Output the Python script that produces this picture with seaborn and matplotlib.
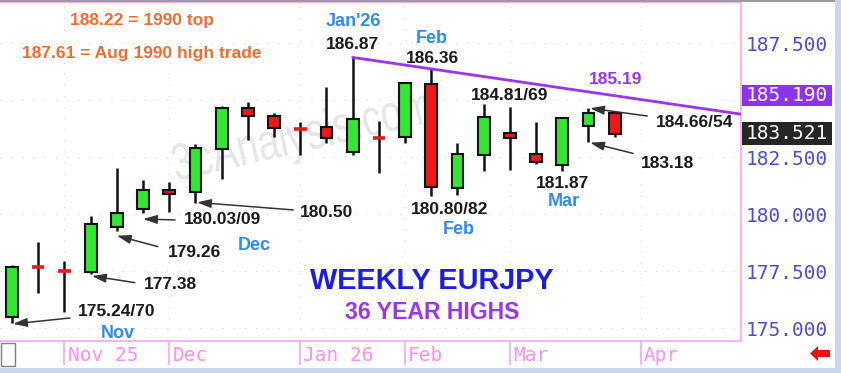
import numpy as np
import pandas as pd
import matplotlib
matplotlib.use('Agg')
import matplotlib.pyplot as plt
import matplotlib.transforms as mtransforms
from matplotlib.patches import Rectangle, Polygon, PathPatch
from matplotlib.textpath import TextPath
from matplotlib.font_manager import FontProperties
import seaborn as sns

# ---------------- data ----------------
weeks = list(range(24))
opens  = [175.50, 177.70, 177.53, 177.45, 179.45, 180.20, 181.05, 180.95, 182.85, 184.65,
          184.30, 183.79, 183.83, 182.70, 183.38, 183.40, 185.70, 181.15, 182.60, 183.55,
          182.63, 182.15, 183.88, 184.45]
highs  = [177.76, 178.79, 177.95, 179.91, 182.00, 181.50, 181.42, 183.07, 184.72, 184.90,
          184.42, 184.05, 185.56, 186.87, 184.09, 185.80, 186.36, 183.10, 184.81, 184.69,
          184.02, 184.25, 184.66, 184.54]
lows   = [175.24, 176.55, 175.70, 177.38, 179.26, 180.03, 180.09, 180.50, 181.55, 183.25,
          183.36, 182.60, 183.13, 182.60, 181.79, 183.13, 180.80, 180.82, 181.90, 181.95,
          182.20, 181.87, 183.18, 183.40]
closes = [177.68, 177.66, 177.49, 179.56, 180.05, 181.05, 180.88, 182.88, 184.65, 184.30,
          183.78, 183.75, 183.35, 184.17, 183.35, 185.73, 181.17, 182.63, 184.27, 183.35,
          182.30, 184.20, 184.42, 183.521]

month_starts = [2, 6, 11, 15, 19, 24]
month_labels = ['Nov 25', 'Dec', 'Jan 26', 'Feb', 'Mar', 'Apr']
ytick_values = [175.0, 177.5, 180.0, 182.5, 187.5]
grid_levels = [175.0, 177.5, 180.0, 182.5, 185.0, 187.5]

trend_x = [13, 23]
trend_y = [186.87, 185.19]
last_price = 183.521
trend_price = 185.19

df = pd.DataFrame({'week': weeks, 'open': opens, 'high': highs, 'low': lows, 'close': closes})

# ---------------- style ----------------
sns.set_theme(style='white')
plt.rcParams['font.family'] = ['Liberation Sans', 'DejaVu Sans']

W, H = 841, 373
fig = plt.figure(figsize=(W / 100, H / 100), dpi=100)
fig.patch.set_facecolor('white')


def fx(px):
    return px / W


def fy(py):
    return 1 - py / H


ax = fig.add_axes([0, fy(341), fx(741), (341 - 2) / H])
ax.set_facecolor('white')
XMIN, XMAX = -0.458, 27.82

UP = '#2fe82f'
DOWN = '#ee1818'
PINK = '#f5a6f0'

# faint dotted grid
for g in grid_levels:
    ax.axhline(g, color='#d9d9d9', lw=0.8, ls=(0, (1, 9)), zorder=0)
for m in month_starts:
    ax.axvline(m, color='#d9d9d9', lw=0.8, ls=(0, (1, 9)), zorder=0)

# watermark (condensed, rotated text drawn in pixel space)
wm = TextPath((0, 0), '3cAnalysis.com', size=52, prop=FontProperties(family='Liberation Sans'))
wm_tr = mtransforms.Affine2D().scale(0.74, 1.0).rotate_deg(13).translate(176, 373 - 181)
wm_patch = PathPatch(wm, transform=wm_tr, facecolor='#e6e6e6', edgecolor='none', zorder=1)
ax.add_artist(wm_patch)

# candles
ax.vlines(df['week'], df['low'], df['high'], color='#111111', lw=1.8, zorder=3)
doji = (df['close'] - df['open']).abs() < 0.06
body = df[~doji]
colors = [UP if c >= o else DOWN for o, c in zip(body['open'], body['close'])]
ax.bar(body['week'], (body['close'] - body['open']).abs(),
       bottom=np.minimum(body['open'], body['close']), width=0.45,
       color=colors, edgecolor='#111111', linewidth=1.5, zorder=4)
dj = df[doji]
ax.hlines(dj['close'], dj['week'] - 0.24, dj['week'] + 0.24, color=DOWN, lw=2.6, zorder=4)

# trend line (through the two anchors, extended to the right edge)
slope = (trend_y[1] - trend_y[0]) / (trend_x[1] - trend_x[0])
tl = pd.DataFrame({'x': [trend_x[0], XMAX]})
tl['y'] = trend_y[0] + slope * (tl['x'] - trend_x[0])
sns.lineplot(data=tl, x='x', y='y', color='#9a35ee', lw=2, ax=ax, zorder=5)

ax.set_xlim(XMIN, XMAX)
ax.set_ylim(174.43, 189.30)

# axes styling
ax.set_xlabel('')
ax.set_ylabel('')
ax.set_xticks([])
ax.yaxis.tick_right()
ax.set_yticks(ytick_values)
ax.set_yticklabels([f'{v:.3f}' for v in ytick_values], fontfamily='DejaVu Sans Mono',
                   fontsize=14, color='#4c4cd6')
ax.tick_params(axis='y', length=0, pad=3)
ax.spines['left'].set_visible(False)
for s in ['right', 'bottom', 'top']:
    ax.spines[s].set_color(PINK)
    ax.spines[s].set_linewidth(1.2)

# price boxes on the right axis
trans = mtransforms.blended_transform_factory(ax.transAxes, ax.transData)
for val, fc, half in [(trend_price, '#8d33ee', 0.46), (last_price, '#262626', 0.5)]:
    ax.add_patch(Rectangle((1.0015, val - half), 0.1215, 2 * half, transform=trans,
                           clip_on=False, facecolor=fc, edgecolor='none', zorder=6))
    ax.text(1.0015 + 0.06075, val, f'{val:.3f}', transform=trans, ha='center', va='center',
            fontfamily='DejaVu Sans Mono', fontsize=14, color='white', zorder=7, clip_on=False)

# annotations
ORANGE = '#f26c30'
BLUE = '#2c8cf0'
PURPLE = '#9a35ee'
BLACK = '#1a1a1a'


def txt(x, y, s, color=BLACK, size=12.5, **kw):
    ax.text(x, y, s, color=color, fontsize=size, fontweight='bold', ha='center',
            va='center', zorder=8, **kw)


txt(4.97, 188.51, '188.22 = 1990 top', ORANGE)
txt(4.97, 187.06, '187.61 = Aug 1990 high trade', ORANGE)
txt(13.03, 188.43, "Jan'26", BLUE, 13)
txt(13.0, 187.44, '186.87')
txt(16.03, 187.71, 'Feb', BLUE, 13)
txt(16.03, 186.83, '186.36')
txt(19.0, 185.22, '184.81/69')
txt(23.03, 185.88, '185.19', PURPLE)
txt(26.03, 184.02, '184.66/54')
txt(25.02, 182.22, '183.18')
txt(21.01, 181.36, '181.87')
txt(21.05, 180.54, 'Mar', BLUE, 13)
txt(16.68, 180.21, '180.80/82')
txt(17.04, 179.30, 'Feb', BLUE, 13)
txt(12.0, 180.06, '180.50')
txt(8.02, 179.74, '180.03/09')
txt(9.26, 178.64, 'Dec', BLUE, 13)
txt(6.98, 178.30, '179.26')
txt(6.03, 176.93, '177.38')
txt(4.01, 175.71, '175.24/70')
txt(4.05, 174.77, 'Nov', BLUE, 13)
txt(16.03, 177.06, 'WEEKLY EURJPY', '#1c1ce8', 20.8)
txt(16.03, 175.70, '36 YEAR HIGHS', '#9a35ee', 16.6)

arrows = [((2.21, 175.44), (0.04, 175.18)),
          ((4.69, 176.99), (3.05, 177.28)),
          ((5.57, 178.57), (4.00, 179.05)),
          ((6.22, 179.74), (5.00, 179.78)),
          ((10.73, 180.18), (7.06, 180.51)),
          ((24.24, 184.30), (22.06, 184.64)),
          ((23.70, 182.66), (22.06, 183.13))]
for tail, head in arrows:
    ax.annotate('', xy=head, xytext=tail, zorder=8,
                arrowprops=dict(arrowstyle='-|>,head_length=0.7,head_width=0.22',
                                color='#333333', lw=1.1, shrinkA=0, shrinkB=0))

# bottom date strip
sax = fig.add_axes([0, fy(368), fx(741), (368 - 341) / H])
sax.set_xlim(XMIN, XMAX)
sax.set_ylim(0, 1)
sax.axis('off')
sax.vlines(month_starts, 0.1, 1, color=PINK, lw=1.2)
for m, lab in zip(month_starts, month_labels):
    sax.text(m + 0.12, 0.47, lab, ha='left', va='center', fontfamily='DejaVu Sans Mono',
             fontsize=14, color='#ff90ea')

# frame decorations
fig.patches.append(Rectangle((0, 0), 1, 5 / H, transform=fig.transFigure,
                             facecolor='#c9d7ea', edgecolor='none', zorder=0))
fig.patches.append(Rectangle((fx(835), 0), 6 / W, 1, transform=fig.transFigure,
                             facecolor='#c9d7ea', edgecolor='none', zorder=0))
fig.patches.append(Rectangle((0, fy(1.6)), fx(835), 1.6 / H, transform=fig.transFigure,
                             facecolor='#9a9a9a', edgecolor='none', zorder=0))
fig.patches.append(Rectangle((fx(0.5), fy(366)), fx(14), (366 - 343) / H,
                             transform=fig.transFigure, facecolor='white',
                             edgecolor='#808080', lw=1, zorder=1))
arrow_pts = [(810, 353.5), (818, 346), (818, 350), (830, 350), (830, 357), (818, 357), (818, 361)]
fig.patches.append(Polygon([(fx(px), fy(py)) for px, py in arrow_pts], closed=True,
                           transform=fig.transFigure, facecolor='#ee1010',
                           edgecolor='none', zorder=1))

fig.savefig('out.png', dpi=100, facecolor='white')
